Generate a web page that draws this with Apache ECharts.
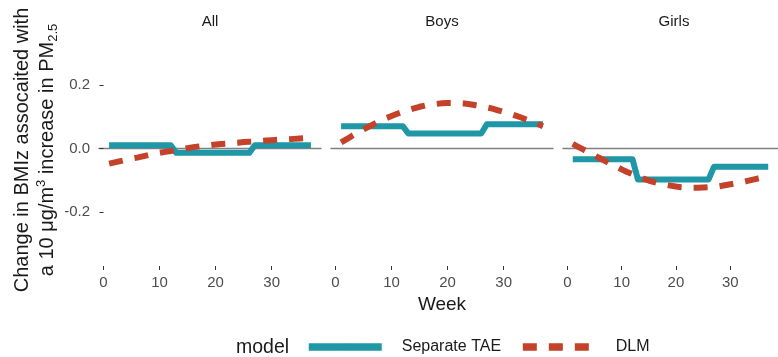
<!DOCTYPE html>
<html>
<head>
<meta charset="utf-8">
<script src="https://cdn.jsdelivr.net/npm/echarts@6/dist/echarts.min.js"></script>
<style>
  html, body { margin: 0; padding: 0; background: #ffffff; }
  #chart { width: 778px; height: 357px; }
</style>
</head>
<body>
<div id="chart"></div>
<script>
// Gestational week of exposure
const weeks = [1, 2, 3, 4, 5, 6, 7, 8, 9, 10, 11, 12, 13, 14, 15, 16, 17, 18, 19,
  20, 21, 22, 23, 24, 25, 26, 27, 28, 29, 30, 31, 32, 33, 34, 35, 36, 37];

// Separate trimester-average estimates (constant within each trimester)
const allTAE = [0.010, 0.010, 0.010, 0.010, 0.010, 0.010, 0.010, 0.010, 0.010, 0.010, 0.010, 0.010,
  -0.014, -0.014, -0.014, -0.014, -0.014, -0.014, -0.014, -0.014, -0.014, -0.014, -0.014, -0.014, -0.014, -0.014,
  0.010, 0.010, 0.010, 0.010, 0.010, 0.010, 0.010, 0.010, 0.010, 0.010, 0.010];
const boysTAE = [0.070, 0.070, 0.070, 0.070, 0.070, 0.070, 0.070, 0.070, 0.070, 0.070, 0.070, 0.070,
  0.047, 0.047, 0.047, 0.047, 0.047, 0.047, 0.047, 0.047, 0.047, 0.047, 0.047, 0.047, 0.047, 0.047,
  0.076, 0.076, 0.076, 0.076, 0.076, 0.076, 0.076, 0.076, 0.076, 0.076, 0.076];
const girlsTAE = [-0.034, -0.034, -0.034, -0.034, -0.034, -0.034, -0.034, -0.034, -0.034, -0.034, -0.034, -0.034,
  -0.098, -0.098, -0.098, -0.098, -0.098, -0.098, -0.098, -0.098, -0.098, -0.098, -0.098, -0.098, -0.098, -0.098,
  -0.058, -0.058, -0.058, -0.058, -0.058, -0.058, -0.058, -0.058, -0.058, -0.058, -0.058];

// Distributed lag model estimates, week by week
const allDLM = [-0.048, -0.044, -0.040, -0.036, -0.032, -0.029, -0.025, -0.021, -0.018, -0.014,
  -0.011, -0.008, -0.005, -0.002, 0.001, 0.004, 0.006, 0.008, 0.010, 0.012,
  0.014, 0.015, 0.017, 0.018, 0.020, 0.021, 0.022, 0.024, 0.025, 0.026,
  0.027, 0.028, 0.029, 0.030, 0.031, 0.032, 0.033];
const boysDLM = [0.019, 0.029, 0.040, 0.050, 0.060, 0.069, 0.078, 0.087, 0.095, 0.102,
  0.109, 0.115, 0.121, 0.126, 0.131, 0.135, 0.138, 0.140, 0.142, 0.143,
  0.143, 0.142, 0.141, 0.139, 0.136, 0.133, 0.129, 0.125, 0.120, 0.115,
  0.110, 0.104, 0.098, 0.091, 0.084, 0.077, 0.070];
const girlsDLM = [0.014, 0.005, -0.004, -0.013, -0.022, -0.031, -0.040, -0.049, -0.057, -0.066,
  -0.074, -0.081, -0.088, -0.095, -0.101, -0.106, -0.110, -0.114, -0.117, -0.120,
  -0.122, -0.123, -0.124, -0.124, -0.123, -0.122, -0.121, -0.119, -0.116, -0.113,
  -0.110, -0.107, -0.103, -0.099, -0.095, -0.091, -0.087];

const panelNames = ['All', 'Boys', 'Girls'];
const xTicks = [0, 10, 20, 30];
const yTicks = [-0.2, 0.0, 0.2];
const modelNames = ['Separate TAE', 'DLM'];

const taeByPanel = [allTAE, boysTAE, girlsTAE];
const dlmByPanel = [allDLM, boysDLM, girlsDLM];

const FONT = '"Liberation Sans", Arial, Helvetica, sans-serif';
const TEAL = '#1f97a7';
const RED = '#c4412a';

const panelLeft = [99, 331, 563];
const panelWidth = 222;
const panelTop = 34;
const panelHeight = 232;
const xMin = -0.8, xMax = 38.8;
const yMin = -0.37, yMax = 0.36;

const grids = [], xAxes = [], yAxes = [], series = [], graphics = [];

panelNames.forEach((name, i) => {
  grids.push({ left: panelLeft[i], top: panelTop, width: panelWidth, height: panelHeight });

  // labelled week axis at the bottom of the panel
  xAxes.push({
    type: 'value', gridIndex: i, min: xMin, max: xMax, position: 'bottom',
    axisLine: { show: false, onZero: false },
    axisTick: { show: true, customValues: xTicks, length: 4, lineStyle: { color: '#333333', width: 1 } },
    axisLabel: { customValues: xTicks, margin: 9, fontSize: 15, color: '#4d4d4d', fontFamily: FONT },
    splitLine: { show: false },
    name: i === 1 ? 'Week' : '',
    nameLocation: 'middle',
    nameGap: 24,
    nameTextStyle: { fontSize: 19, color: '#1a1a1a', fontFamily: FONT }
  });
  // horizontal reference line at zero effect
  xAxes.push({
    type: 'value', gridIndex: i, min: xMin, max: xMax, position: 'top',
    axisLine: { show: true, onZero: true, lineStyle: { color: '#808080', width: 1.3 } },
    axisTick: { show: false }, axisLabel: { show: false }, splitLine: { show: false }
  });

  yAxes.push({
    type: 'value', gridIndex: i, min: yMin, max: yMax,
    axisLine: { show: false },
    axisTick: { show: i === 0, customValues: yTicks, length: 4, lineStyle: { color: '#333333', width: 1 } },
    axisLabel: {
      show: i === 0, customValues: yTicks, margin: 9, fontSize: 15, color: '#4d4d4d', fontFamily: FONT,
      formatter: v => v.toFixed(1)
    },
    splitLine: { show: false },
    name: i === 0 ? 'Change in BMIz assocaited with\na 10 μg/m{sup|3} increase in PM{sub|2.5}' : '',
    nameLocation: 'middle',
    nameRotate: 90,
    nameGap: 39,
    nameTextStyle: {
      fontSize: 20, lineHeight: 25, color: '#1a1a1a', fontFamily: FONT,
      rich: {
        sup: { fontSize: 13, lineHeight: 14, verticalAlign: 'top', color: '#1a1a1a', fontFamily: FONT },
        sub: { fontSize: 13, lineHeight: 14, verticalAlign: 'bottom', color: '#1a1a1a', fontFamily: FONT }
      }
    }
  });

  series.push({
    name: modelNames[0], type: 'line', xAxisIndex: 2 * i, yAxisIndex: i,
    data: weeks.map((w, k) => [w, taeByPanel[i][k]]),
    symbol: 'none', showSymbol: false, z: 2,
    lineStyle: { color: TEAL, width: 6, type: 'solid', join: 'round' },
    itemStyle: { color: TEAL }
  });
  series.push({
    name: modelNames[1], type: 'line', xAxisIndex: 2 * i, yAxisIndex: i,
    data: weeks.map((w, k) => [w, dlmByPanel[i][k]]),
    symbol: 'none', showSymbol: false, z: 3,
    lineStyle: { color: RED, width: 6, type: [14, 12], cap: 'butt' },
    itemStyle: { color: RED }
  });

  // facet strip label
  graphics.push({
    type: 'text', x: panelLeft[i] + panelWidth / 2, y: 22,
    style: { text: name, align: 'center', verticalAlign: 'middle', fontSize: 15, fill: '#1a1a1a', fontFamily: FONT }
  });
});

graphics.push({
  type: 'text', x: 236, y: 348,
  style: { text: 'model', align: 'left', verticalAlign: 'middle', fontSize: 19.5, fill: '#1a1a1a', fontFamily: FONT }
});

const chart = echarts.init(document.getElementById('chart'), null, { renderer: 'canvas' });
chart.setOption({
  animation: false,
  backgroundColor: '#ffffff',
  grid: grids,
  xAxis: xAxes,
  yAxis: yAxes,
  series: series,
  graphic: graphics,
  legend: {
    data: modelNames,
    left: 300, top: 334,
    itemWidth: 73, itemHeight: 8, itemGap: 18,
    lineStyle: { width: 7.5 },
    textStyle: { fontSize: 16, color: '#1a1a1a', fontFamily: FONT, padding: [0, 0, 0, 15] }
  }
});
</script>
</body>
</html>
